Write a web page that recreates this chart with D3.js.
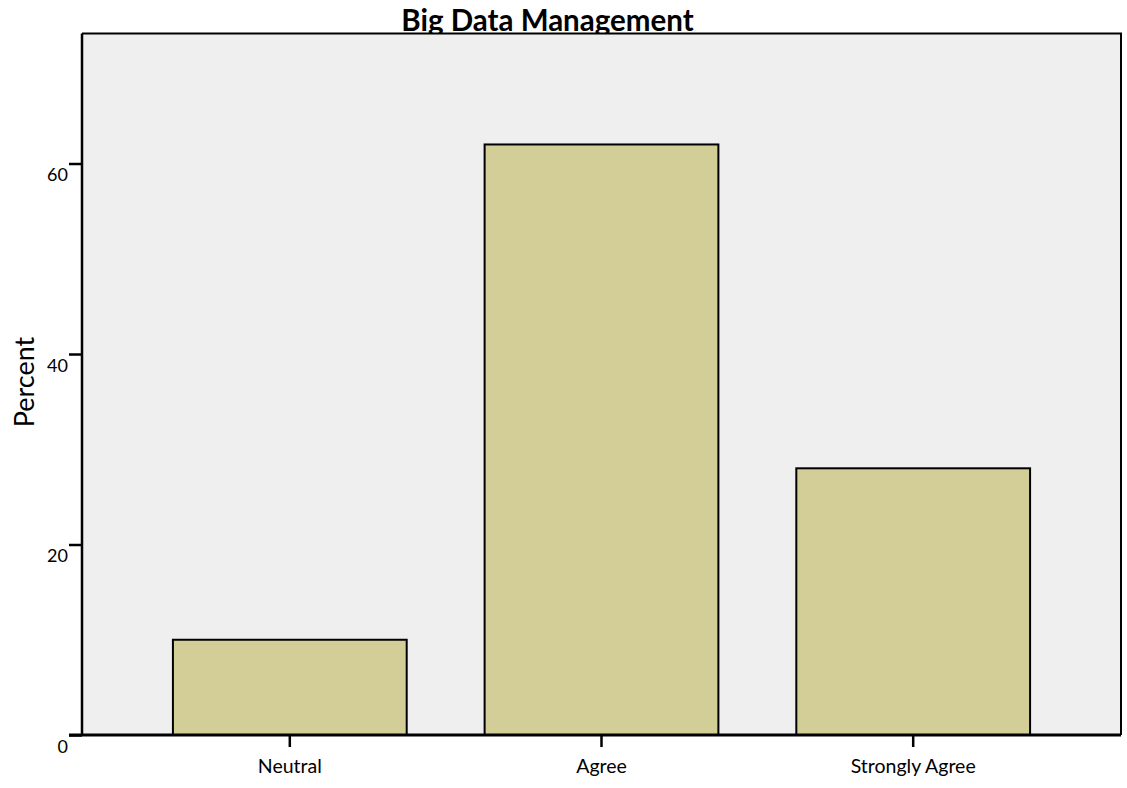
<!DOCTYPE html>
<html><head><meta charset="utf-8">
<script src="https://cdn.jsdelivr.net/npm/d3@7"></script>
<style>body{margin:0;background:#fff}svg{display:block}text{font-family:Lato,"Open Sans",sans-serif;fill:#000}</style>
</head><body>
<script>
const categories = ["Neutral", "Agree", "Strongly Agree"];
const percents = [10, 62, 28];
const yTicks = [0, 20, 40, 60];
const title = "Big Data Management";
const yLabel = "Percent";

const W = 1127, H = 788;
const m = {left: 82, top: 33.5, right: 1121, bottom: 735};
const svg = d3.select("body").append("svg").attr("width", W).attr("height", H);

const x = d3.scaleBand().domain(categories).range([m.left, m.right]).paddingInner(0.25).paddingOuter(0.2917);
const y = d3.scaleLinear().domain([0, 73.65]).range([m.bottom, m.top]);

// title (drawn before plot so the frame overlays descenders)
svg.append("text").attr("x", 547.5).attr("y", 31).attr("text-anchor", "middle")
  .style("font-weight", "bold").style("font-size", "29.5px").text(title);

svg.append("rect").attr("x", m.left).attr("y", m.top).attr("width", m.right - m.left).attr("height", m.bottom - m.top)
  .attr("fill", "#efefef");

svg.append("g").selectAll("rect").data(categories).join("rect")
  .attr("x", d => x(d)).attr("width", x.bandwidth())
  .attr("y", (d, i) => y(percents[i])).attr("height", (d, i) => y(0) - y(percents[i]))
  .attr("fill", "#d3ce98").attr("stroke", "#000").attr("stroke-width", 2);

// frame top & right
svg.append("path").attr("d", `M${m.left},${m.top}H${m.right}V${m.bottom}`).attr("fill", "none").attr("stroke", "#000").attr("stroke-width", 2);

// y axis
const yAxis = svg.append("g").attr("transform", `translate(${m.left},0)`)
  .call(d3.axisLeft(y).tickValues(yTicks).tickSize(13).tickPadding(1).tickFormat(d3.format("d")));
yAxis.select(".domain").attr("stroke-width", 2.5).attr("d", `M0,${m.top}V${m.bottom}`);
yAxis.selectAll(".tick line").attr("stroke-width", 2.5);
yAxis.selectAll(".tick text").attr("dy", "0.95em").style("font-size", "18px").style("font-family", "Lato, sans-serif");

// x axis
const xAxis = svg.append("g").attr("transform", `translate(0,${m.bottom})`)
  .call(d3.axisBottom(x).tickSize(12).tickPadding(12));
xAxis.select(".domain").attr("stroke-width", 3).attr("d", `M${m.left - 13},0H${m.right}`);
xAxis.selectAll(".tick line").attr("stroke-width", 2.5);
xAxis.selectAll(".tick text").style("font-size", "19.5px").style("font-family", "Lato, sans-serif");

svg.append("text").attr("transform", `translate(34,382) rotate(-90)`).attr("text-anchor", "middle")
  .style("font-size", "27px").text(yLabel);
</script>
</body></html>
